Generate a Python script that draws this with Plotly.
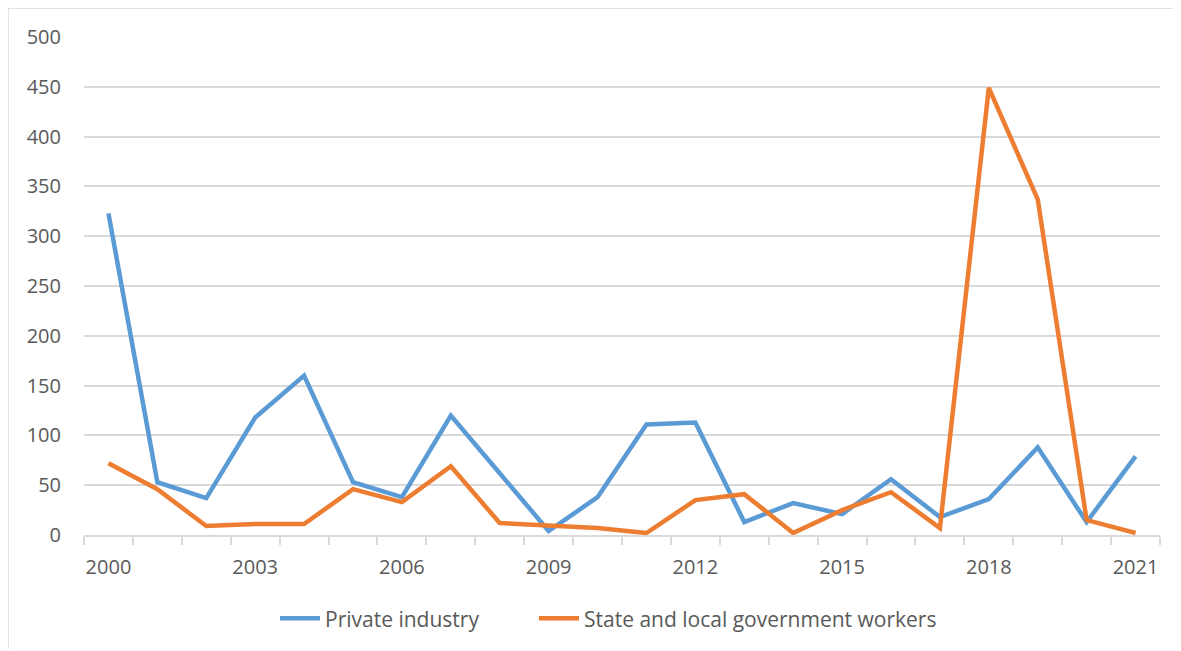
import plotly.graph_objects as go

years = list(range(2000, 2022))
private_industry = [323, 53, 37, 118, 160, 53, 38, 120, 62, 4, 38, 111, 113, 13, 32, 21, 56, 18, 36, 88, 13, 79]
state_local = [72, 46, 9, 11, 11, 46, 33, 69, 12, 9, 7, 2, 35, 41, 2, 25, 43, 7, 449, 337, 15, 2]
x_tick_years = [2000, 2003, 2006, 2009, 2012, 2015, 2018, 2021]
y_ticks = [0, 50, 100, 150, 200, 250, 300, 350, 400, 450, 500]

# the page body has an 8px margin, so the figure starts at (8, 8) in the window
OFF = 8
W, H = 1181 - OFF, 651 - OFF
L, R, T, B = 84 - OFF, 21, 37 - OFF, 651 - 537
pw, ph = W - L - R, H - T - B

def px_x(p):
    return (p - OFF - L) / pw

def px_y(p):
    return (H - B - (p - OFF)) / ph

fig = go.Figure()
fig.add_trace(go.Scatter(x=years, y=private_industry, mode="lines", name="Private industry",
                         line=dict(color="#5B9BD5", width=4.5), legend="legend"))
fig.add_trace(go.Scatter(x=years, y=state_local, mode="lines", name="State and local government workers",
                         line=dict(color="#ED7D31", width=4.5), legend="legend2"))

font = "'Open Sans', Lato, sans-serif"
leg_common = dict(orientation="h", y=px_y(621), yanchor="middle", xanchor="left",
                  font=dict(size=21, color="#595959"), itemwidth=40, bgcolor="rgba(0,0,0,0)")
fig.update_layout(
    width=W, height=H,
    margin=dict(l=L, r=R, t=T, b=B),
    paper_bgcolor="white", plot_bgcolor="white",
    font=dict(family=font, size=20, color="#595959"),
    showlegend=True,
    legend=dict(x=px_x(275), **leg_common),
    legend2=dict(x=px_x(534), **leg_common),
    xaxis=dict(
        range=[years[0] - 0.5, years[-1] + 0.5],
        tickmode="array", tickvals=x_tick_years, ticktext=[str(v) for v in x_tick_years],
        ticks="", showgrid=False, zeroline=False,
        showline=True, linecolor="#D9D9D9", linewidth=1.5,
        ticklabelstandoff=13,
        minor=dict(tickvals=[y - 0.5 for y in years] + [years[-1] + 0.5], ticks="outside",
                   ticklen=8, tickcolor="#D9D9D9", tickwidth=1.5, showgrid=False),
    ),
    yaxis=dict(
        range=[0, 500], tickmode="array", tickvals=y_ticks,
        showgrid=True, gridcolor="#D9D9D9", gridwidth=1.5,
        zeroline=False, showline=False, ticks="", ticklabelstandoff=22,
    ),
    shapes=[
        dict(type="line", xref="paper", yref="paper", x0=px_x(8), x1=px_x(8), y0=px_y(8), y1=px_y(651),
             line=dict(color="#D9D9D9", width=1.5)),
        dict(type="line", xref="paper", yref="paper", x0=px_x(8), x1=px_x(1181), y0=px_y(8), y1=px_y(8),
             line=dict(color="#D9D9D9", width=1.5)),
    ],
)

fig.write_html("out.html")
